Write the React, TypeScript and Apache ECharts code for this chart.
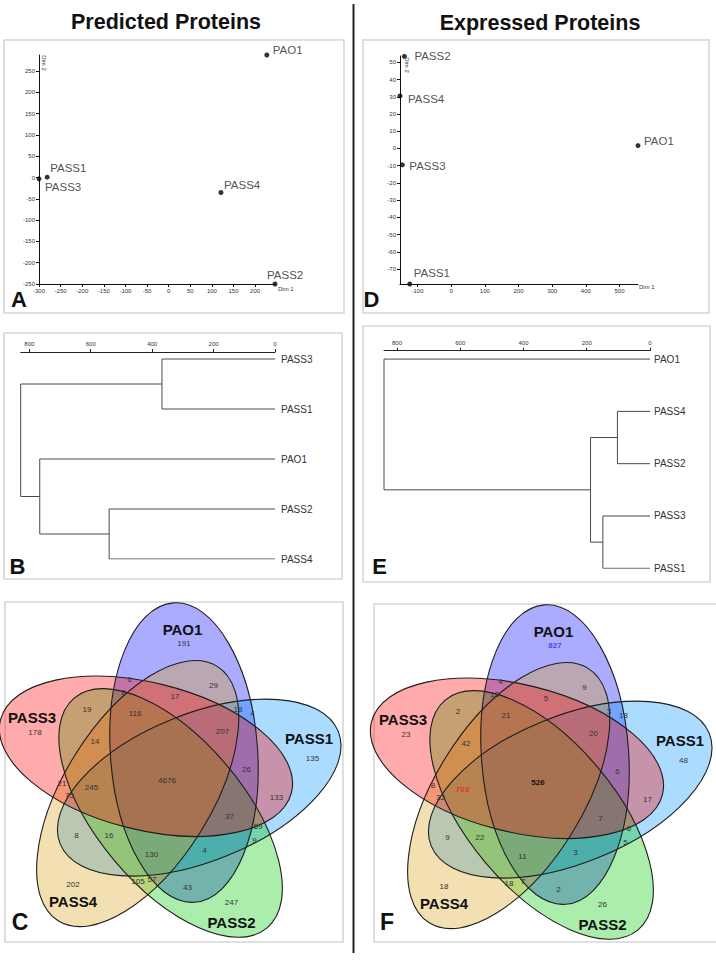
import React, { useEffect, useRef } from "react";
import * as echarts from "echarts";

const FONT = "'Liberation Sans', Arial, Helvetica, sans-serif";

// ---------- Panel A : MDS, predicted proteins ----------
const predictedMdsNames = ["PAO1", "PASS1", "PASS3", "PASS4", "PASS2"];
const predictedDim1 = [227, -281, -300, 121, 246];
const predictedDim2 = [288, 1, -3, -35, -250];
const predictedDim1Ticks = [-300, -250, -200, -150, -100, -50, 0, 50, 100, 150, 200];
const predictedDim2Ticks = [-250, -200, -150, -100, -50, 0, 50, 100, 150, 200, 250];

// ---------- Panel D : MDS, expressed proteins ----------
const expressedMdsNames = ["PASS2", "PASS4", "PAO1", "PASS3", "PASS1"];
const expressedDim1 = [-139, -152, 555, -145, -123];
const expressedDim2 = [53.5, 30.5, 1.7, -9.5, -78.7];
const expressedDim1Ticks = [-100, 0, 100, 200, 300, 400, 500];
const expressedDim2Ticks = [-70, -60, -50, -40, -30, -20, -10, 0, 10, 20, 30, 40, 50];

// ---------- Panels B / E : dendrograms (merge: left, right, height; numbers = earlier merge) ----------
const predictedLeaves = ["PASS3", "PASS1", "PAO1", "PASS2", "PASS4"];
const predictedMerges: [string | number, string | number, number][] = [
  ["PASS3", "PASS1", 368],
  ["PASS2", "PASS4", 540],
  ["PAO1", 1, 766],
  [0, 2, 828],
];
const expressedLeaves = ["PAO1", "PASS4", "PASS2", "PASS3", "PASS1"];
const expressedMerges: [string | number, string | number, number][] = [
  ["PASS4", "PASS2", 103],
  ["PASS3", "PASS1", 149],
  [0, 1, 188],
  ["PAO1", 2, 841],
];
const heightTicks = [0, 200, 400, 600, 800];

// ---------- Panels C / F : five-set Venn ----------
const vennSets = ["PAO1", "PASS1", "PASS2", "PASS4", "PASS3"];
// region order: 5 unique, then the overlaps (same order for both diagrams)
const predictedVenn = [191, 178, 135, 202, 247, 6, 8, 29, 17, 19, 116, 18, 4, 14, 207, 26, 4676, 21, 245, 75, 133, 37, 69, 8, 16, 9, 4, 130, 105, 57, 43];
const expressedVenn = [827, 23, 48, 18, 26, 4, 13, 9, 5, 2, 21, 3, 18, 42, 20, 6, 526, 8, 703, 32, 17, 7, 6, 9, 22, 5, 3, 11, 18, 7, 2];

// ----- layout (not data) -----
const labelOffsetA: Record<string, number[]> = {
  PAO1: [3.5, -5], PASS1: [0.5, -9], PASS3: [3.5, 8], PASS4: [0.5, -7], PASS2: [-10.5, -9],
};
const labelOffsetD: Record<string, number[]> = {
  PASS2: [7.5, 0], PASS4: [5.5, 3], PAO1: [3.5, -5], PASS3: [4.5, 1], PASS1: [1.5, -11],
};
const vennSetLabelPos = [[182.5, 629], [309, 738], [231.5, 922.5], [73, 901.5], [32, 717.5]];
const vennRegionPos = [
  [183, 643.5], [34, 732.5], [311.5, 758.5], [72, 884], [230.5, 902],
  [128.5, 679.5], [122.5, 692], [212.5, 685.5], [174, 696], [86, 709],
  [134, 713.5], [237, 709.5], [251.5, 713], [94, 741.5], [221.5, 731],
  [245.5, 769], [166, 780], [61, 783], [90.5, 787.5], [68.5, 795],
  [275.5, 797.5], [228.5, 816.5], [257, 826], [75.5, 835.5], [108, 835.5],
  [253.5, 840.5], [203.5, 850], [150.5, 854], [137, 881], [151, 879], [186.5, 887.5],
];
const vennFill = [
  "rgba(0,0,255,0.33)",
  "rgba(0,150,255,0.33)",
  "rgba(0,200,0,0.33)",
  "rgba(220,160,20,0.33)",
  "rgba(255,0,0,0.33)",
];

function dendroLines(leaves: string[], merges: [string | number, string | number, number][]) {
  const leafPos: Record<string, { y: number; h: number }> = {};
  leaves.forEach((l, i) => (leafPos[l] = { y: i, h: 0 }));
  const nodes: { y: number; h: number }[] = [];
  const out: any[] = [];
  const get = (k: string | number) => (typeof k === "number" ? nodes[k] : leafPos[k]);
  merges.forEach(([a, b, h]) => {
    const A = get(a);
    const B = get(b);
    out.push({ coords: [[A.h, A.y], [h, A.y], [h, B.y], [B.h, B.y]] });
    nodes.push({ y: (A.y + B.y) / 2, h });
  });
  return out;
}

function txt(x: number, y: number, text: string, size: number, opts: any = {}) {
  return {
    type: "text",
    x,
    y,
    rotation: opts.rotation || 0,
    silent: true,
    style: {
      text,
      fontSize: size,
      fontFamily: FONT,
      fontWeight: opts.bold ? "bold" : "normal",
      fill: opts.color || "#222",
      align: opts.align || "center",
      verticalAlign: "middle",
      textAlign: opts.align || "center",
      textVerticalAlign: "middle",
    },
  };
}

function vennGraphics(dx: number, dy: number, counts: number[], special: Record<number, any>) {
  const els: any[] = [];
  const ellipse = (k: number) => {
    const th = ((-59.5 + 72 * k) * Math.PI) / 180;
    const ph = ((86 + 72 * k) * Math.PI) / 180;
    return {
      x: 167.5 + 32.5 * Math.cos(th) + dx,
      y: 780.6 + 32.5 * Math.sin(th) + dy,
      rotation: -ph,
      shape: { cx: 0, cy: 0, rx: 150, ry: 73.6 },
    };
  };
  vennSets.forEach((_, k) => {
    els.push({ type: "ellipse", silent: true, ...ellipse(k), style: { fill: vennFill[k] } });
  });
  vennSets.forEach((_, k) => {
    els.push({ type: "ellipse", silent: true, ...ellipse(k), style: { fill: "none", stroke: "#1e1e1e", lineWidth: 1.1 } });
  });
  vennSets.forEach((s, k) => {
    els.push(txt(vennSetLabelPos[k][0] + dx, vennSetLabelPos[k][1] + dy, s, 15, { bold: true, color: "#111" }));
  });
  counts.forEach((c, i) => {
    const sp = special[i] || {};
    els.push(txt(vennRegionPos[i][0] + dx + 1, vennRegionPos[i][1] + dy, String(c), 8, { bold: sp.bold, color: sp.color || "#333" }));
  });
  return els;
}

function scatterAxes(gridIndex: number, min: number, max: number, ticks: number[]) {
  return {
    gridIndex,
    type: "value",
    min,
    max,
    axisLine: { onZero: false, lineStyle: { color: "#111", width: 1 } },
    axisTick: { show: true, length: 3, customValues: ticks, lineStyle: { color: "#111" } },
    axisLabel: { fontSize: 6, color: "#333", margin: 4, customValues: ticks, fontFamily: FONT },
    splitLine: { show: false },
  };
}

function mdsData(names: string[], d1: number[], d2: number[], off: Record<string, number[]>) {
  return names.map((n, i) => ({
    name: n,
    value: [d1[i], d2[i]],
    label: { offset: off[n] },
  }));
}

export default function App() {
  const ref = useRef<HTMLDivElement>(null);
  useEffect(() => {
    if (!ref.current) return;
    const chart = echarts.init(ref.current, undefined, { renderer: "svg" });

    const heightAxis = (gridIndex: number, max: number) => ({
      gridIndex,
      type: "value",
      position: "top",
      inverse: true,
      min: 0,
      max,
      axisLine: { onZero: false, lineStyle: { color: "#222", width: 1 } },
      axisTick: { show: true, length: 3, customValues: heightTicks, lineStyle: { color: "#222" } },
      axisLabel: { fontSize: 6, color: "#333", margin: 5, customValues: heightTicks, fontFamily: FONT },
      splitLine: { show: false },
    });
    const leafAxis = (gridIndex: number, leaves: string[], min: number, margin: number) => ({
      gridIndex,
      type: "value",
      position: "right",
      inverse: true,
      min,
      max: 4,
      axisLine: { show: false },
      axisTick: { show: false },
      splitLine: { show: false },
      axisLabel: {
        customValues: leaves.map((_, i) => i),
        formatter: (v: number) => leaves[Math.round(v)] || "",
        fontSize: 10,
        color: "#333",
        margin,
        fontFamily: FONT,
      },
    });

    const scatterSeries = (idx: number, data: any[]) => ({
      type: "scatter",
      xAxisIndex: idx,
      yAxisIndex: idx,
      symbol: "circle",
      symbolSize: 5,
      clip: false,
      itemStyle: { color: "#000" },
      label: {
        show: true,
        position: "right",
        distance: 0,
        formatter: "{b}",
        fontSize: 11.5,
        color: "#222",
        fontFamily: FONT,
      },
      data,
    });

    const lineSeries = (idx: number, data: any[]) => ({
      type: "lines",
      coordinateSystem: "cartesian2d",
      xAxisIndex: idx,
      yAxisIndex: idx,
      polyline: true,
      silent: true,
      lineStyle: { color: "#4a4a4a", width: 1, opacity: 1 },
      data,
    });

    const boxes = [
      [4, 40, 340, 273],
      [363, 40, 346, 273],
      [4, 333, 338, 246],
      [363, 326, 347, 256],
      [5, 602, 338, 340],
      [374, 604, 345, 338],
    ].map(([x, y, w, h]) => ({
      type: "rect",
      silent: true,
      shape: { x, y, width: w, height: h },
      style: { fill: "none", stroke: "#d6d6d6", lineWidth: 1.6 },
    }));

    const graphics: any[] = [
      ...boxes,
      { type: "line", silent: true, shape: { x1: 353.5, y1: 4, x2: 353.5, y2: 953 }, style: { stroke: "#222", lineWidth: 2 } },
      txt(166, 22, "Predicted Proteins", 21.5, { bold: true, color: "#111" }),
      txt(540, 22.5, "Expressed Proteins", 21.5, { bold: true, color: "#111" }),
      txt(44, 63, "Dim 2", 6, { rotation: -Math.PI / 2, color: "#333" }),
      txt(278, 289, "Dim 1", 6, { align: "left", color: "#333" }),
      txt(407, 65, "Dim 2", 6, { rotation: -Math.PI / 2, color: "#333" }),
      txt(639, 287, "Dim 1", 6, { align: "left", color: "#333" }),
      ...vennGraphics(0, 0, predictedVenn, {}),
      ...vennGraphics(371, 2, expressedVenn, {
        0: { bold: true, color: "#5b3fe6" },
        16: { bold: true, color: "#111" },
        18: { bold: true, color: "#e5332a" },
      }),
      txt(19, 299, "A", 22, { bold: true, color: "#111" }),
      txt(371.5, 299, "D", 22, { bold: true, color: "#111" }),
      txt(17.5, 566.5, "B", 22, { bold: true, color: "#111" }),
      txt(379.5, 566.5, "E", 22, { bold: true, color: "#111" }),
      txt(20, 922, "C", 23, { bold: true, color: "#111" }),
      txt(387, 922, "F", 23, { bold: true, color: "#111" }),
    ];

    const option: any = {
      animation: false,
      backgroundColor: "#ffffff",
      textStyle: { fontFamily: FONT },
      grid: [
        { left: 39, top: 55, width: 236, height: 229, outerBoundsMode: "none" },
        { left: 400, top: 56, width: 238, height: 228, outerBoundsMode: "none" },
        { left: 20.7, top: 352, width: 254.3, height: 207, outerBoundsMode: "none" },
        { left: 384, top: 350.7, width: 266, height: 217.6, outerBoundsMode: "none" },
      ],
      xAxis: [
        scatterAxes(0, -300, 246, predictedDim1Ticks),
        scatterAxes(1, -152, 555, expressedDim1Ticks),
        heightAxis(2, 828),
        heightAxis(3, 841),
      ],
      yAxis: [
        scatterAxes(0, -250, 288, predictedDim2Ticks),
        scatterAxes(1, -78.7, 53.7, expressedDim2Ticks),
        leafAxis(2, predictedLeaves, -0.14, 6),
        leafAxis(3, expressedLeaves, -0.16, 4),
      ],
      series: [
        scatterSeries(0, mdsData(predictedMdsNames, predictedDim1, predictedDim2, labelOffsetA)),
        scatterSeries(1, mdsData(expressedMdsNames, expressedDim1, expressedDim2, labelOffsetD)),
        lineSeries(2, dendroLines(predictedLeaves, predictedMerges)),
        lineSeries(3, dendroLines(expressedLeaves, expressedMerges)),
      ],
      graphic: { elements: graphics },
    };
    chart.setOption(option);
    return () => chart.dispose();
  }, []);

  return (
    <div
      ref={ref}
      style={{ position: "absolute", left: 0, top: 0, width: 716, height: 960, background: "#fff" }}
    />
  );
}
